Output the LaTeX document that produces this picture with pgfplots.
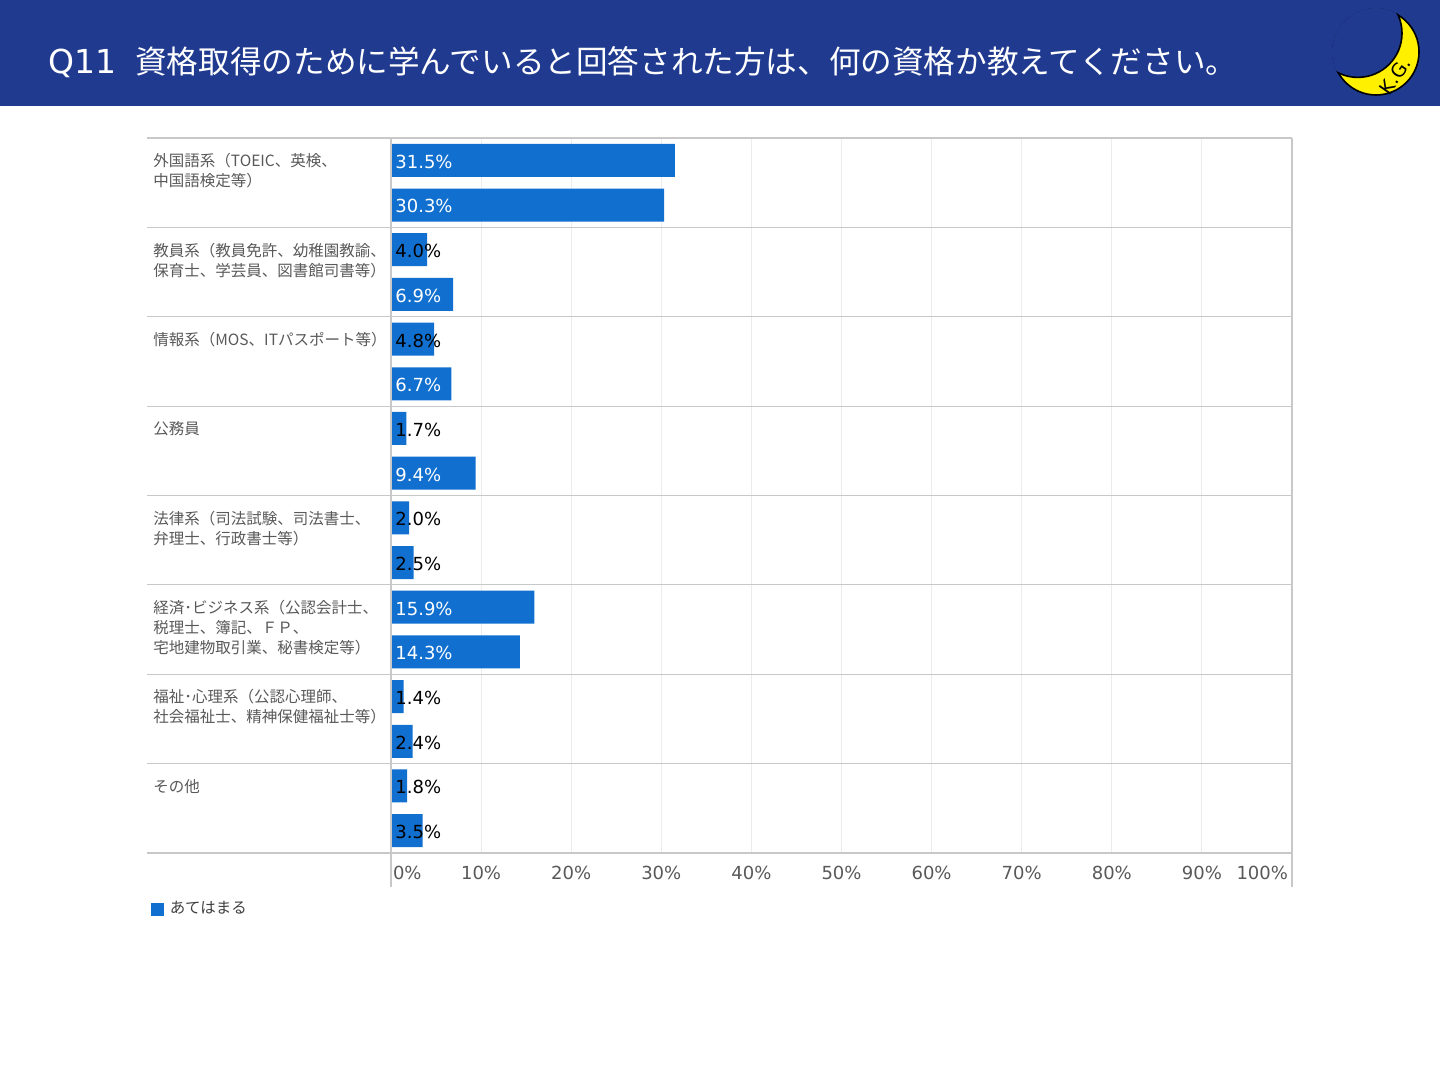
\documentclass[border=0pt]{standalone}
\usepackage{fontspec}
\setmainfont{Noto Sans CJK JP}
\newfontfamily\dv{DejaVu Sans}
\usepackage{pgfplots}
\pgfplotsset{compat=1.18}
\usepackage{pgfplotstable}
\definecolor{hdr}{HTML}{1F3A8F}
\definecolor{barc}{HTML}{1170CF}
\definecolor{lbl}{HTML}{595959}
\definecolor{rowline}{HTML}{C8C8C8}
\definecolor{gridc}{HTML}{ECECEC}
\definecolor{moon}{HTML}{FFF000}

% y = position of the bar (row index + 0.25 / 0.75), v = percentage
\pgfplotstableread{
y v
0.25 31.5
0.75 30.3
1.25 4.0
1.75 6.9
2.25 4.8
2.75 6.7
3.25 1.7
3.75 9.4
4.25 2.0
4.75 2.5
5.25 15.9
5.75 14.3
6.25 1.4
6.75 2.4
7.25 1.8
7.75 3.5
}\datatable

\newcommand\barlabel{%
  \pgfmathfloattofixed{\pgfplotspointmeta}\let\barval\pgfmathresult
  \ifdim\barval pt>5.5pt \color{white}\else\color{black}\fi
  \pgfmathprintnumber[fixed,fixed zerofill,precision=1,assume math mode=true]{\barval}\%}

\begin{document}
\begin{tikzpicture}
\path[use as bounding box] (0pt,0pt) rectangle (720pt,540pt);
\fill[white] (0pt,0pt) rectangle (720pt,540pt);
\fill[hdr] (0pt,487pt) rectangle (720pt,540pt);
\node[anchor=west, text=white, inner sep=0pt, font=\fontsize{15.8}{18}\selectfont] at (24pt,509pt)
  {\makebox[43.5pt][l]{\dv\fontsize{16.5}{18}\selectfont Q11}資格取得のために学んでいると回答された方は、何の資格か教えてください。};
% logo
\fill[moon, draw=black, line width=0.8pt] (688pt,514pt) circle (21.5pt);
\begin{scope}
\clip (688pt,514pt) circle (22pt);
\fill[hdr, draw=black, line width=0.8pt] (678.9pt,523.4pt) circle (22.1pt);
\end{scope}
\node[rotate=55, font=\dv\fontsize{9.5}{9.5}\selectfont, inner sep=0pt] at (697.5pt,502pt) {K.G.};

\begin{axis}[
  at={(195.5pt,113.5pt)}, anchor=south west,
  scale only axis, width=450.5pt, height=357.5pt,
  xmin=0, xmax=100, ymin=0, ymax=8, y dir=reverse,
  clip=false,
  axis line style={draw=none},
  major tick length=0pt,
  xtick={10,20,...,90},
  xticklabel={\pgfmathprintnumber[assume math mode=true]{\tick}\%},
  extra x ticks={0,100},
  extra x tick labels={\makebox[0pt][l]{\hspace{1pt}0\%},\makebox[0pt][r]{100\%\hspace{2pt}}},
  extra x tick style={grid=none},
  xticklabel style={font=\dv\fontsize{9}{10}\selectfont, text=lbl, anchor=north, inner sep=0pt, yshift=-6.5pt},
  xmajorgrids,
  major grid style={draw=gridc, line width=0.5pt},
  ytick={0,1,...,7},
  yticklabels={
    {外国語系（TOEIC、英検、\\中国語検定等）},
    {教員系（教員免許、幼稚園教諭、\\保育士、学芸員、図書館司書等）},
    {情報系（MOS、ITパスポート等）},
    {公務員},
    {法律系（司法試験、司法書士、\\弁理士、行政書士等）},
    {経済･ビジネス系（公認会計士、\\税理士、簿記、ＦＰ、\\宅地建物取引業、秘書検定等）},
    {福祉･心理系（公認心理師、\\社会福祉士、精神保健福祉士等）},
    {その他}},
  yticklabel style={anchor=north west, inner sep=0pt, xshift=-119pt, yshift=-7.5pt,
    align=left, font=\fontsize{7.75}{10}\selectfont, text=lbl},
  legend style={at={(axis cs:-26.64,8.627)}, anchor=west, draw=none, fill=none,
    inner sep=0pt, outer sep=0pt, font=\fontsize{7.75}{9}\selectfont, text=black!75},
  legend cell align=left,
]
\addplot[xbar, bar width=16.5pt, bar shift=0pt, fill=barc, draw=none,
  legend image code/.code={\fill[barc] (0pt,-3.25pt) rectangle (6.5pt,3.25pt);}]
  table[x=v, y=y] {\datatable};
\addlegendentry{\hspace{1pt}あてはまる}
\addplot[only marks, mark=none, forget plot,
  point meta=explicit,
  nodes near coords={\barlabel},
  every node near coord/.style={anchor=west, inner sep=0pt, xshift=2pt, yshift=-0.7pt, font=\dv\fontsize{9}{10}\selectfont}]
  table[x expr=0, y=y, meta=v] {\datatable};
\pgfplotsinvokeforeach{0,...,8}{
  \draw[rowline, line width=0.6pt] (axis cs:-27.08,#1) -- (axis cs:100,#1);
}
\draw[rowline, line width=0.6pt] (axis cs:0,0) -- (axis cs:0,8.38);
\draw[rowline, line width=0.6pt] (axis cs:100,0) -- (axis cs:100,8.38);
\end{axis}
\end{tikzpicture}
\end{document}
